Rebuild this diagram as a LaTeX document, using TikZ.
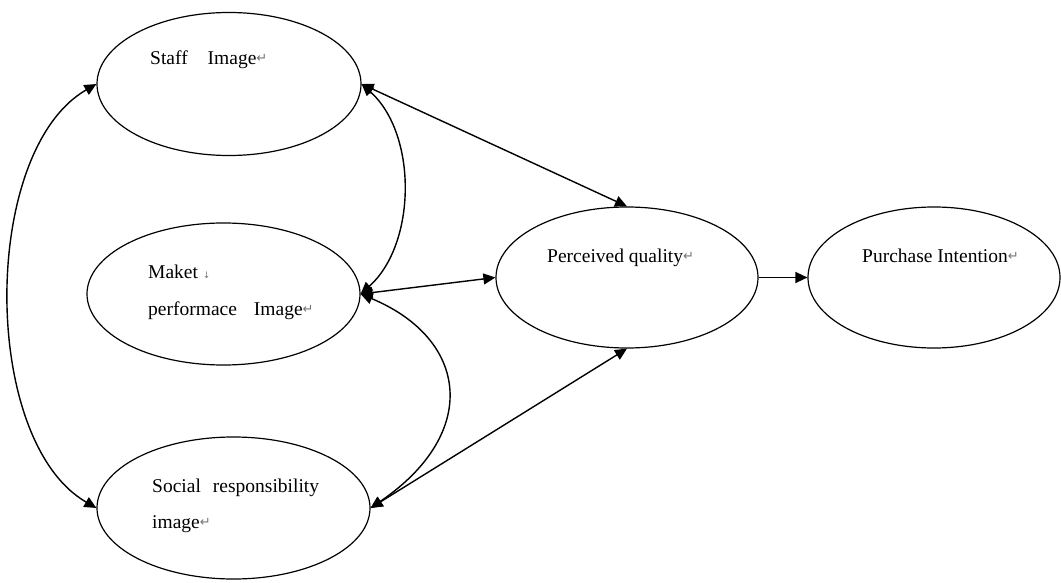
\documentclass[tikz,border=0pt]{standalone}
\usepackage{fontspec}
\setmainfont{Liberation Serif}
\newfontfamily\dejavu{DejaVu Sans}
\usetikzlibrary{shapes.geometric,arrows.meta}
\definecolor{markgray}{gray}{0.45}
\newcommand{\retmark}{\textcolor{markgray}{\dejavu\fontsize{13}{13}\selectfont\raisebox{2pt}{↵}}}
\newcommand{\brkmark}{\textcolor{markgray}{\dejavu\fontsize{9}{9}\selectfont ↓}}
\begin{document}
\begin{tikzpicture}[x=1pt,y=-1pt,
  oval/.style={draw, ellipse, line width=1.2pt, inner sep=0pt},
  lab/.style={anchor=base west, inner sep=0pt, font=\fontsize{19.5}{23}\selectfont},
  conn/.style={line width=1.4pt, {Triangle[length=12pt,width=11pt]}-{Triangle[length=12pt,width=11pt]}},
  oneway/.style={line width=1.4pt, -{Triangle[length=12pt,width=11pt]}}]
\useasboundingbox (0,0) rectangle (1061,583);
\node[oval, minimum width=264pt, minimum height=143pt] (staff) at (229,84) {};
\node[oval, minimum width=273pt, minimum height=142pt] (market) at (223.5,294) {};
\node[oval, minimum width=273pt, minimum height=142pt] (social) at (233.5,508) {};
\node[oval, minimum width=262pt, minimum height=141pt] (perc) at (627,277.5) {};
\node[oval, minimum width=252pt, minimum height=141pt] (purch) at (934,277.5) {};
\node[lab] (t1) at (150,65) {Staff\hspace{20pt}Image\retmark};
\node[lab] (t2) at (148,278) {Maket \brkmark};
\node[lab] (t3) at (148,315) {performace\hspace{17pt}Image\retmark};
\node[lab] (t4) at (152,492) {Social\hspace{12pt}responsibility};
\node[lab] (t5) at (152,528) {image\retmark};
\node[lab] (t6) at (547,262) {Perceived quality\retmark};
\node[lab] (t7) at (862,262) {Purchase Intention\retmark};
\draw[conn] (staff.west) .. controls +(-116,67) and +(-116,-67) .. (social.west);
\draw[conn] (staff.east) .. controls +(56,50) and +(56,-50) .. (market.east);
\draw[conn] (market.east) .. controls +(108,45) and +(110,-75) .. (social.east);
\draw[conn] (staff.east) -- (perc.north);
\draw[conn] (market.east) -- (perc.west);
\draw[conn] (social.east) -- (perc.south);
\draw[oneway] (perc.east) -- (purch.west);
\end{tikzpicture}
\end{document}
